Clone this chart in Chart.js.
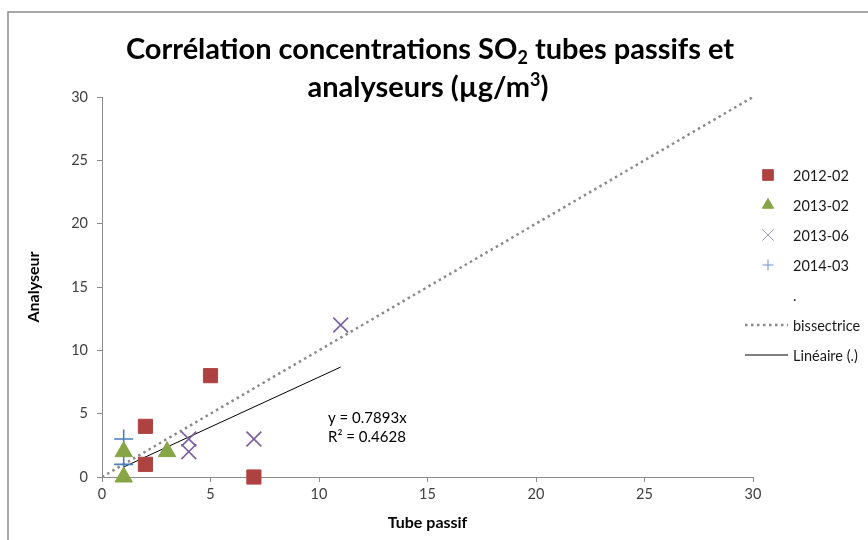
<!DOCTYPE html>
<html>
<head>
<meta charset="utf-8">
<script src="https://cdn.jsdelivr.net/npm/chart.js@4.4.0/dist/chart.umd.min.js"></script>
<style>
  html, body { margin: 0; padding: 0; background: #fff; }
  #wrap { width: 868px; height: 540px; }
</style>
</head>
<body>
<div id="wrap"><canvas id="corr" width="868" height="540"></canvas></div>
<script>
"use strict";

// campaign names and (tube, analyser) pairs
const campaigns = ['2012-02', '2013-02', '2013-06', '2014-03'];
const tube201202 = [2, 2, 5, 7];
const anal201202 = [4, 1, 8, 0];
const tube201302 = [1, 1, 3];
const anal201302 = [2, 0, 2];
const tube201306 = [4, 4, 7, 11];
const anal201306 = [3, 2, 3, 12];
const tube201403 = [1, 1];
const anal201403 = [3, 1];

// bisector and linear trend (through the "." series)
const bisX = [0, 30];
const bisY = [0, 30];
const trendX = [1, 11];
const trendY = [0.79, 8.68];
const trendText = ['y = 0.7893x', 'R\u00b2 = 0.4628'];

const axisTicks = [0, 5, 10, 15, 20, 25, 30];

const FONT = 'Lato, "DejaVu Sans", sans-serif';

const pts = (xs, ys) => xs.map((x, i) => ({ x: x, y: ys[i] }));

const allX = [].concat(tube201202, tube201302, tube201306, tube201403);
const allY = [].concat(anal201202, anal201302, anal201306, anal201403);

const datasets = [
    {
        label: campaigns[0], data: pts(tube201202, anal201202),
        pointStyle: 'rect', pointRadius: 10, pointHoverRadius: 10,
        backgroundColor: '#ae4240', borderColor: '#ae4240', borderWidth: 1,
        clip: false, legendRadius: 7.5
    },
    {
        label: campaigns[1], data: pts(tube201302, anal201302),
        pointStyle: 'triangle', pointRadius: 10, pointHoverRadius: 10,
        backgroundColor: '#86a545', borderColor: '#86a545', borderWidth: 1,
        clip: false, legendRadius: 6.5
    },
    {
        label: campaigns[2], data: pts(tube201306, anal201306),
        pointStyle: 'crossRot', pointRadius: 10.5, pointHoverRadius: 10.5,
        backgroundColor: '#7b5f9f', borderColor: '#7b5f9f', borderWidth: 1.6,
        clip: false, legendRadius: 8, legendColor: '#a89bc2', legendWidth: 1
    },
    {
        label: campaigns[3], data: pts(tube201403, anal201403),
        pointStyle: 'cross', pointRadius: 9.5, pointHoverRadius: 9.5,
        backgroundColor: '#4a7ebb', borderColor: '#4a7ebb', borderWidth: 1.6,
        clip: false, legendRadius: 5.5, legendColor: '#6f93c4', legendWidth: 1
    },
    {
        label: '.', data: pts(allX, allY),
        pointRadius: 0, showLine: false, borderColor: 'rgba(0,0,0,0)',
        legendNone: true
    },
    {
        label: 'bissectrice', data: pts(bisX, bisY),
        showLine: true, pointRadius: 0, borderColor: '#8a8a8a', borderWidth: 2.5,
        borderDash: [2.5, 3.5], fill: false, legendLine: true
    },
    {
        label: 'Lin\u00e9aire (.)', data: pts(trendX, trendY),
        showLine: true, pointRadius: 0, borderColor: '#000', borderWidth: 1,
        fill: false, legendLine: true
    }
];

const framePlugin = {
    id: 'frame',
    beforeDraw(chart) {
        const ctx = chart.ctx;
        ctx.save();
        ctx.fillStyle = '#fff';
        ctx.fillRect(0, 0, chart.width, chart.height);
        ctx.strokeStyle = '#8c8c8c';
        ctx.lineWidth = 1.5;
        ctx.strokeRect(8, 12, 900, 600);
        ctx.restore();
    }
};

function drawRuns(ctx, runs, cx, y, size) {
    // runs: [text, 'n'|'sub'|'sup']
    const big = 'bold ' + size + 'px ' + FONT;
    const small = 'bold ' + Math.round(size * 0.62) + 'px ' + FONT;
    let total = 0;
    runs.forEach(r => {
        ctx.font = r[1] === 'n' ? big : small;
        total += ctx.measureText(r[0]).width;
    });
    let x = cx - total / 2;
    runs.forEach(r => {
        ctx.font = r[1] === 'n' ? big : small;
        let dy = 0;
        if (r[1] === 'sub') dy = size * 0.28;
        if (r[1] === 'sup') dy = -size * 0.28;
        ctx.fillText(r[0], x, y + dy);
        x += ctx.measureText(r[0]).width;
    });
}

const titlePlugin = {
    id: 'twoLineTitle',
    afterDraw(chart) {
        const ctx = chart.ctx;
        ctx.save();
        ctx.fillStyle = '#000';
        ctx.textBaseline = 'middle';
        ctx.textAlign = 'left';
        drawRuns(ctx, [['Corr\u00e9lation concentrations SO', 'n'], ['2', 'sub'], [' tubes passifs et', 'n']], 430, 50, 29);
        drawRuns(ctx, [['analyseurs (\u00b5g/m', 'n'], ['3', 'sup'], [')', 'n']], 428, 88, 29);

        // trend equation
        ctx.font = '15px ' + FONT;
        ctx.fillStyle = '#000';
        ctx.fillText(trendText[0], 328, 418);
        ctx.fillText(trendText[1], 328, 437);
        ctx.restore();
    }
};

const legendPlugin = {
    id: 'sideLegend',
    afterDraw(chart) {
        const ctx = chart.ctx;
        ctx.save();
        ctx.textBaseline = 'middle';
        ctx.textAlign = 'left';
        ctx.font = '14.5px ' + FONT;
        chart.data.datasets.forEach((ds, i) => {
            const y = 175 + i * 30;
            if (ds.legendLine) {
                ctx.save();
                ctx.strokeStyle = ds.borderColor;
                ctx.lineWidth = ds.borderWidth;
                ctx.setLineDash(ds.borderDash || []);
                ctx.beginPath();
                ctx.moveTo(745, y);
                ctx.lineTo(788, y);
                ctx.stroke();
                ctx.restore();
            } else if (!ds.legendNone) {
                ctx.save();
                ctx.fillStyle = ds.backgroundColor;
                ctx.strokeStyle = ds.legendColor || ds.borderColor;
                ctx.lineWidth = ds.legendWidth || ds.borderWidth;
                Chart.helpers.drawPoint(ctx, {
                    pointStyle: ds.pointStyle,
                    radius: ds.legendRadius,
                    rotation: 0,
                    borderWidth: ctx.lineWidth
                }, 768, y);
                ctx.restore();
            }
            ctx.fillStyle = '#1a1a1a';
            ctx.fillText(ds.label, 793, y + 1);
        });
        ctx.restore();
    }
};

const axisColor = '#8c8c8c';

new Chart(document.getElementById('corr'), {
    type: 'scatter',
    data: { datasets: datasets },
    plugins: [framePlugin, titlePlugin, legendPlugin],
    options: {
        responsive: false,
        animation: false,
        devicePixelRatio: 1,
        layout: { padding: { left: 0, top: 97, right: 115, bottom: 0 } },
        plugins: {
            legend: { display: false },
            title: { display: false },
            tooltip: { enabled: false }
        },
        scales: {
            x: {
                type: 'linear',
                min: 0, max: 30,
                afterFit(scale) { scale.height = 63; },
                afterBuildTicks(scale) { scale.ticks = axisTicks.map(v => ({ value: v })); },
                border: { display: true, color: axisColor, width: 1 },
                grid: { drawOnChartArea: false, drawTicks: true, tickLength: 5, color: axisColor },
                ticks: { padding: 4, color: '#404040', font: { family: FONT, size: 14.5 } },
                title: {
                    display: true, text: 'Tube passif', color: '#000',
                    font: { family: FONT, size: 16, weight: 'bold' },
                    padding: { top: 0, bottom: 8 }
                }
            },
            y: {
                type: 'linear',
                min: 0, max: 30,
                afterFit(scale) { scale.width = 102; },
                afterBuildTicks(scale) { scale.ticks = axisTicks.map(v => ({ value: v })); },
                border: { display: true, color: axisColor, width: 1 },
                grid: { drawOnChartArea: false, drawTicks: true, tickLength: 5, color: axisColor },
                ticks: { padding: 9, color: '#404040', font: { family: FONT, size: 14.5 } },
                title: {
                    display: true, text: 'Analyseur', color: '#000',
                    font: { family: FONT, size: 16, weight: 'bold' },
                    padding: { top: 24, bottom: 0 }
                }
            }
        }
    }
});
</script>
</body>
</html>
